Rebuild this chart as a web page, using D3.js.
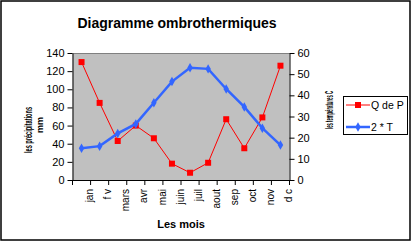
<!DOCTYPE html>
<html>
<head>
<meta charset="utf-8">
<script src="https://cdn.jsdelivr.net/npm/d3@7/dist/d3.min.js"></script>
<style>
  body { margin: 0; background: #fff; }
  svg text { font-family: "Liberation Sans", Arial, sans-serif; }
</style>
</head>
<body>
<div id="chart"></div>
<script>
// data
const months = ['jan', 'f v', 'mars', 'avr', 'mai', 'juin', 'juil', 'aout', 'sep', 'oct', 'nov', 'd c'];
const pluie = [130, 85, 43, 60, 46, 18, 8, 19, 67, 35, 69, 126];      // Q de P (mm)
const temp2 = [15, 16, 22, 26.5, 36.5, 46.5, 53, 52.5, 43, 34.5, 24.5, 16.5]; // 2 * T
const leftTicks = [0, 20, 40, 60, 80, 100, 120, 140];
const rightTicks = [0, 10, 20, 30, 40, 50, 60];

const W = 415, H = 246;
const plot = {left: 72.5, right: 289.5, top: 53, bottom: 180};

let svg = d3.select('#chart').append('svg')
            .attr('width', W)
            .attr('height', H);

// outer frame
svg.append('rect')
   .attr('x', 1).attr('y', 1)
   .attr('width', 409).attr('height', 239)
   .attr('fill', '#fff')
   .attr('stroke', '#000')
   .attr('stroke-width', 1.5);

// scales
let x = d3.scaleBand()
          .domain(months)
          .range([plot.left, plot.right])
          .padding(0);
let yL = d3.scaleLinear().domain([0, 140]).range([plot.bottom, plot.top]);
let yR = d3.scaleLinear().domain([0, 60]).range([plot.bottom, plot.top]);
let cx = (d, i) => x(months[i]) + x.bandwidth() / 2;

// plot area
svg.append('rect')
   .attr('x', plot.left).attr('y', plot.top)
   .attr('width', plot.right - plot.left)
   .attr('height', plot.bottom - plot.top)
   .attr('fill', '#c0c0c0');
svg.append('line')
   .attr('x1', plot.left).attr('x2', plot.right)
   .attr('y1', plot.top + 0.5).attr('y2', plot.top + 0.5)
   .attr('stroke', '#808080');

// axes
let axL = svg.append('g')
             .attr('transform', 'translate(' + plot.left + ',0)')
             .call(d3.axisLeft(yL).tickValues(leftTicks).tickSize(5).tickPadding(3).tickSizeOuter(0));
let axR = svg.append('g')
             .attr('transform', 'translate(' + plot.right + ',0)')
             .call(d3.axisRight(yR).tickValues(rightTicks).tickSize(5).tickPadding(3).tickSizeOuter(0));
[axL, axR].forEach((g) => {
  g.selectAll('text').attr('font-size', 11).attr('fill', '#000')
   .attr('font-family', '"Liberation Sans", Arial, sans-serif');
  g.selectAll('line, path').attr('stroke', '#000');
});

// bottom axis: ticks on band boundaries
let bottom = svg.append('g');
bottom.append('line')
      .attr('x1', plot.left).attr('x2', plot.right)
      .attr('y1', plot.bottom + 0.5).attr('y2', plot.bottom + 0.5)
      .attr('stroke', '#000');
let bounds = months.map((m) => x(m)).concat([plot.right]);
bottom.selectAll('.tk')
      .data(bounds)
      .enter()
      .append('line')
      .attr('x1', (d) => d).attr('x2', (d) => d)
      .attr('y1', plot.bottom).attr('y2', plot.bottom + 5)
      .attr('stroke', '#000');
bottom.selectAll('.lab')
      .data(months)
      .enter()
      .append('text')
      .attr('transform', (d) => 'translate(' + (x(d) + x.bandwidth() * 0.95) + ',' + 189 + ') rotate(-90)')
      .attr('dy', '0.35em')
      .attr('text-anchor', 'end')
      .attr('font-size', 10)
      .text((d) => d);

// red series: precipitation
let lineP = d3.line().x(cx).y((d) => yL(d));
svg.append('path')
   .datum(pluie)
   .attr('d', lineP)
   .attr('fill', 'none')
   .attr('stroke', '#ff0000')
   .attr('stroke-width', 1);
svg.selectAll('.sq')
   .data(pluie)
   .enter()
   .append('rect')
   .attr('x', (d, i) => cx(d, i) - 3)
   .attr('y', (d) => yL(d) - 3)
   .attr('width', 6).attr('height', 6)
   .attr('fill', '#ff0000');

// blue series: 2 * T
let lineT = d3.line().x(cx).y((d) => yR(d));
svg.append('path')
   .datum(temp2)
   .attr('d', lineT)
   .attr('fill', 'none')
   .attr('stroke', '#3366ff')
   .attr('stroke-width', 2.5);
let diamond = d3.symbol().type(d3.symbolDiamond).size(26);
svg.selectAll('.dm')
   .data(temp2)
   .enter()
   .append('path')
   .attr('d', diamond)
   .attr('transform', (d, i) => 'translate(' + cx(d, i) + ',' + yR(d) + ')')
   .attr('fill', '#3366ff');

// titles
svg.append('text')
   .attr('x', 177).attr('y', 28)
   .attr('text-anchor', 'middle')
   .attr('font-size', 14).attr('font-weight', 'bold')
   .text('Diagramme ombrothermiques');
svg.append('text')
   .attr('x', 181).attr('y', 228)
   .attr('text-anchor', 'middle')
   .attr('font-size', 11).attr('font-weight', 'bold')
   .text('Les mois');
svg.append('text')
   .attr('transform', 'translate(32,130) rotate(-90)')
   .attr('text-anchor', 'middle')
   .attr('font-size', 10.5).attr('font-weight', 'bold')
   .attr('textLength', 46).attr('lengthAdjust', 'spacingAndGlyphs')
   .text('les précipitations');
svg.append('text')
   .attr('transform', 'translate(43,125) rotate(-90)')
   .attr('text-anchor', 'middle')
   .attr('font-size', 9).attr('font-weight', 'bold')
   .text('mm');
svg.append('text')
   .attr('transform', 'translate(333,110) rotate(-90)')
   .attr('text-anchor', 'middle')
   .attr('font-size', 10.5).attr('font-weight', 'bold')
   .attr('textLength', 38).attr('lengthAdjust', 'spacingAndGlyphs')
   .text('les températures C');

// legend
let leg = svg.append('g');
leg.append('rect')
   .attr('x', 343.5).attr('y', 96.5)
   .attr('width', 64).attr('height', 38)
   .attr('fill', '#fff')
   .attr('stroke', '#000');
let legItems = [
  {name: 'Q de P', color: '#ff0000', w: 1, y: 105},
  {name: '2 * T', color: '#3366ff', w: 2.5, y: 127}
];
legItems.forEach((it, i) => {
  leg.append('line')
     .attr('x1', 346).attr('x2', 370)
     .attr('y1', it.y).attr('y2', it.y)
     .attr('stroke', it.color).attr('stroke-width', it.w);
  if (i === 0) {
    leg.append('rect').attr('x', 355).attr('y', it.y - 3).attr('width', 6).attr('height', 6).attr('fill', it.color);
  } else {
    leg.append('path').attr('d', diamond).attr('transform', 'translate(358,' + it.y + ')').attr('fill', it.color);
  }
  leg.append('text')
     .attr('x', 371).attr('y', it.y + 4)
     .attr('font-size', 10.5)
     .text(it.name);
});
</script>
</body>
</html>
